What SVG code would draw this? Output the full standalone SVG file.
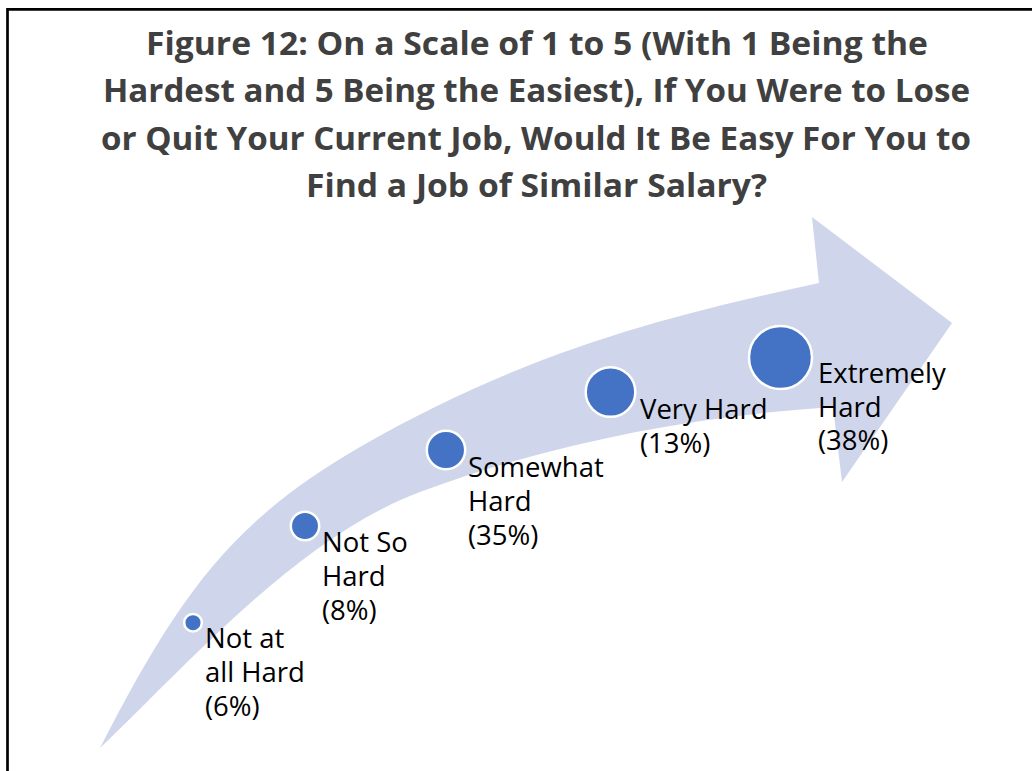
<svg xmlns="http://www.w3.org/2000/svg" width="1032" height="771" viewBox="0 0 1032 771">
<style>
.title{font-family:"Open Sans","Liberation Sans",sans-serif;font-weight:bold;font-size:32.5px;fill:#404040;text-anchor:middle}
.lbl{font-family:"Open Sans","Liberation Sans",sans-serif;font-size:27.5px;fill:#000}
.dot{fill:#4472C4;stroke:#fff;stroke-width:2.5}
</style>
<rect x="0" y="0" width="1032" height="771" fill="#fff"/>
<g id="frame" stroke="#000" stroke-width="2.7" fill="none">
<line x1="7.5" y1="9.3" x2="1032" y2="9.3"/>
<line x1="7.5" y1="8" x2="7.5" y2="771"/>
</g>
<g id="title">
<text class="title" x="537" y="55" textLength="782" lengthAdjust="spacingAndGlyphs">Figure 12: On a Scale of 1 to 5 (With 1 Being the</text>
<text class="title" x="536.5" y="102" textLength="867" lengthAdjust="spacingAndGlyphs">Hardest and 5 Being the Easiest), If You Were to Lose</text>
<text class="title" x="536" y="149.5" textLength="870" lengthAdjust="spacingAndGlyphs">or Quit Your Current Job, Would It Be Easy For You to</text>
<text class="title" x="536.5" y="196.5" textLength="461" lengthAdjust="spacingAndGlyphs">Find a Job of Similar Salary?</text>
</g>
<g id="connectors">
<path id="arrow" fill="#CFD5EA" d="M100,748 C177.7,596.9 230,522 360,447 C533.2,347 682.2,312.7 819,283 L812,217 L952,323 L842,482 L833,407 C693,416 551.2,443.1 420,492 C298.2,537.4 187,665.3 100,748 Z"/>
</g>
<g id="n1"><circle class="dot" cx="193" cy="622.7" r="8.8"/>
<text class="lbl" x="205" y="648">Not at</text><text class="lbl" x="205" y="682">all Hard</text><text class="lbl" x="205" y="716">(6%)</text></g>
<g id="n2"><circle class="dot" cx="305" cy="526" r="14.2"/>
<text class="lbl" x="322" y="552">Not So</text><text class="lbl" x="322" y="586">Hard</text><text class="lbl" x="322" y="620">(8%)</text></g>
<g id="n3"><circle class="dot" cx="446" cy="450" r="19.2"/>
<text class="lbl" x="468" y="477">Somewhat</text><text class="lbl" x="468" y="511">Hard</text><text class="lbl" x="468" y="545">(35%)</text></g>
<g id="n4"><circle class="dot" cx="610.5" cy="392" r="24.8"/>
<text class="lbl" x="640" y="419">Very Hard</text><text class="lbl" x="640" y="453">(13%)</text></g>
<g id="n5"><circle class="dot" cx="780.5" cy="357.5" r="31.5"/>
<text class="lbl" x="818" y="383">Extremely</text><text class="lbl" x="818" y="417">Hard</text><text class="lbl" x="818" y="450">(38%)</text></g>
</svg>
